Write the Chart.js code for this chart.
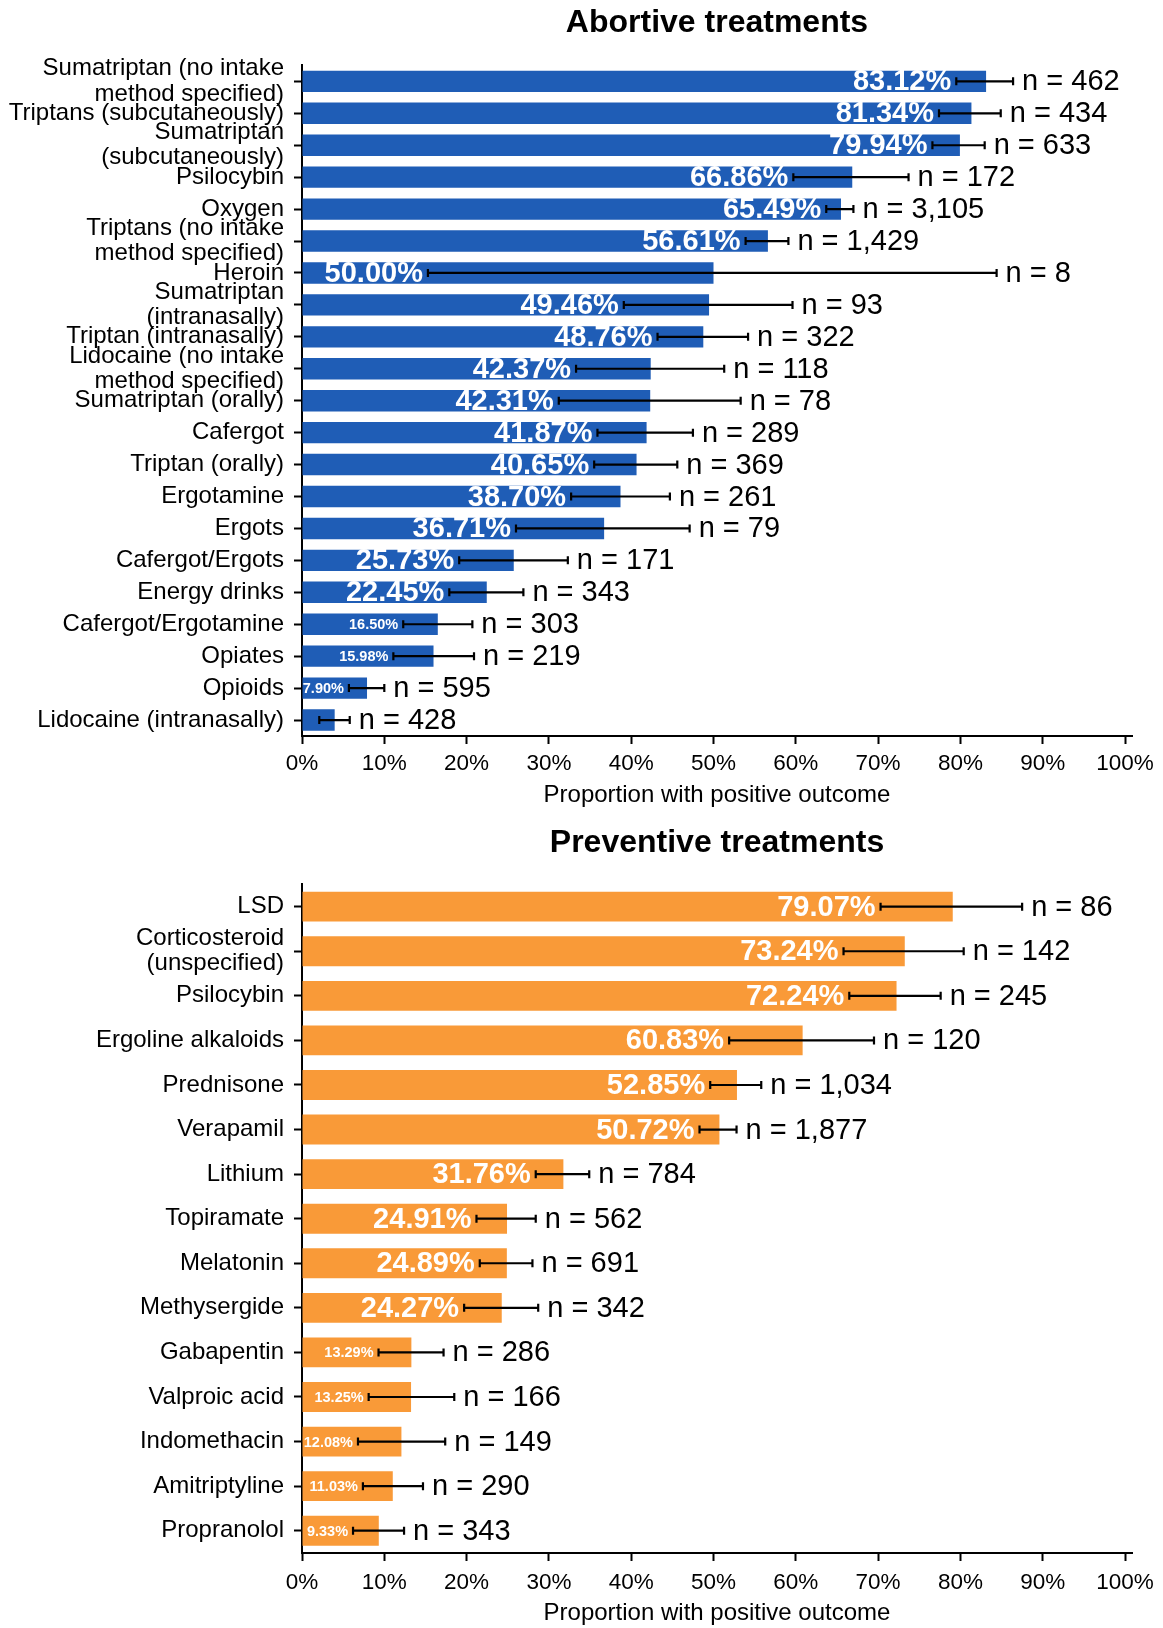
<!doctype html>
<html lang="en">
<head>
  <meta charset="UTF-8" />
  <title>Treatment outcomes</title>
  <script src="https://cdn.jsdelivr.net/npm/chart.js@4.4.4/dist/chart.umd.min.js"></script>
  <style>
    body {
      margin: 0;
      background: #fff;
    }
    canvas {
      display: block;
    }
  </style>
</head>
<body>
  <canvas id="abortiveChart" width="1163" height="815"></canvas>
  <canvas id="preventiveChart" width="1163" height="813"></canvas>

  <script>
    // Abortive treatments: share with positive outcome (%), 95% CI bounds and sample size
    const abortiveLabels = [
      ['Sumatriptan (no intake', 'method specified)'],
      'Triptans (subcutaneously)',
      ['Sumatriptan', '(subcutaneously)'],
      'Psilocybin',
      'Oxygen',
      ['Triptans (no intake', 'method specified)'],
      'Heroin',
      ['Sumatriptan', '(intranasally)'],
      'Triptan (intranasally)',
      ['Lidocaine (no intake', 'method specified)'],
      'Sumatriptan (orally)',
      'Cafergot',
      'Triptan (orally)',
      'Ergotamine',
      'Ergots',
      'Cafergot/Ergots',
      'Energy drinks',
      'Cafergot/Ergotamine',
      'Opiates',
      'Opioids',
      'Lidocaine (intranasally)'
    ];
    const abortiveValues = [83.12, 81.34, 79.94, 66.86, 65.49, 56.61, 50.00, 49.46, 48.76, 42.37, 42.31, 41.87, 40.65, 38.70, 36.71, 25.73, 22.45, 16.50, 15.98, 7.90, 3.97];
    const abortiveLow = [79.5, 77.4, 76.6, 59.7, 63.7, 53.9, 15.3, 39.1, 43.2, 33.3, 31.2, 35.9, 35.5, 32.7, 26.0, 19.1, 17.9, 12.3, 11.1, 5.7, 2.1];
    const abortiveHigh = [86.4, 84.9, 82.95, 73.7, 67.0, 59.1, 84.4, 59.6, 54.2, 51.3, 53.3, 47.5, 45.6, 44.7, 47.1, 32.3, 26.9, 20.7, 20.9, 10.0, 5.8];
    const abortiveN = [462, 434, 633, 172, 3105, 1429, 8, 93, 322, 118, 78, 289, 369, 261, 79, 171, 343, 303, 219, 595, 428];

    // Preventive treatments
    const preventiveLabels = [
      'LSD',
      ['Corticosteroid', '(unspecified)'],
      'Psilocybin',
      'Ergoline alkaloids',
      'Prednisone',
      'Verapamil',
      'Lithium',
      'Topiramate',
      'Melatonin',
      'Methysergide',
      'Gabapentin',
      'Valproic acid',
      'Indomethacin',
      'Amitriptyline',
      'Propranolol'
    ];
    const preventiveValues = [79.07, 73.24, 72.24, 60.83, 52.85, 50.72, 31.76, 24.91, 24.89, 24.27, 13.29, 13.25, 12.08, 11.03, 9.33];
    const preventiveLow = [70.3, 65.8, 66.5, 51.9, 49.6, 48.3, 28.4, 21.2, 21.6, 19.7, 9.3, 8.1, 6.8, 7.4, 6.2];
    const preventiveHigh = [87.5, 80.4, 77.6, 69.5, 55.8, 52.8, 34.9, 28.4, 28.0, 28.7, 17.2, 18.5, 17.4, 14.7, 12.4];
    const preventiveN = [86, 142, 245, 120, 1034, 1877, 784, 562, 691, 342, 286, 166, 149, 290, 343];

    const xTickValues = [0, 10, 20, 30, 40, 50, 60, 70, 80, 90, 100];

    const FONT = '"Liberation Sans", Arial, Helvetica, sans-serif';

    // Error bars, value labels inside the bars and sample sizes to the right
    const annotate = {
      id: 'annotate',
      afterDatasetsDraw(chart, args, opts) {
        const { ctx } = chart;
        const x = chart.scales.x;
        const meta = chart.getDatasetMeta(0);
        ctx.save();
        meta.data.forEach((bar, i) => {
          const y = bar.y;
          const lo = x.getPixelForValue(opts.low[i]);
          const hi = x.getPixelForValue(opts.high[i]);
          const v = opts.values[i];

          if (v >= 5) {
            ctx.fillStyle = '#fff';
            ctx.textAlign = 'right';
            ctx.textBaseline = 'middle';
            ctx.font = v >= 20 ? `bold 29px ${FONT}` : `bold 14.5px ${FONT}`;
            ctx.fillText(v.toFixed(2) + '%', lo - 5, y + 1);
          }

          ctx.strokeStyle = '#000';
          ctx.lineWidth = 2.2;
          ctx.beginPath();
          ctx.moveTo(lo, y);
          ctx.lineTo(hi, y);
          ctx.moveTo(lo, y - 4);
          ctx.lineTo(lo, y + 4);
          ctx.moveTo(hi, y - 4);
          ctx.lineTo(hi, y + 4);
          ctx.stroke();

          ctx.fillStyle = '#000';
          ctx.textAlign = 'left';
          ctx.textBaseline = 'middle';
          ctx.font = `29px ${FONT}`;
          ctx.fillText('n = ' + opts.n[i].toLocaleString('en-US'), hi + 9, y + 1);
        });
        ctx.restore();
      }
    };

    function makeChart(id, cfg) {
      return new Chart(document.getElementById(id), {
        type: 'bar',
        data: {
          labels: cfg.labels,
          datasets: [{
            data: cfg.values,
            backgroundColor: cfg.color,
            barPercentage: 0.67,
            categoryPercentage: 1
          }]
        },
        options: {
          indexAxis: 'y',
          responsive: false,
          animation: false,
          layout: { padding: { left: 0, right: 31, top: 0, bottom: 0 } },
          plugins: {
            legend: { display: false },
            tooltip: { enabled: false },
            title: {
              display: true,
              text: cfg.title,
              fullSize: false,
              color: '#000',
              font: { family: FONT, size: 32, weight: 'bold', lineHeight: 1.2 },
              padding: cfg.titlePadding
            },
            annotate: {
              values: cfg.values,
              low: cfg.low,
              high: cfg.high,
              n: cfg.n
            }
          },
          scales: {
            x: {
              min: 0,
              max: 100.85,
              afterBuildTicks: (scale) => {
                scale.ticks = xTickValues.map((v) => ({ value: v }));
              },
              afterFit: (scale) => {
                scale.height = cfg.xHeight;
              },
              ticks: {
                color: '#000',
                padding: cfg.xTickPadding,
                font: { family: FONT, size: 22.5 },
                callback: (v) => v + '%'
              },
              grid: {
                drawOnChartArea: false,
                tickLength: 8,
                tickWidth: 2,
                tickColor: '#000'
              },
              border: { color: '#000', width: 2 },
              title: {
                display: true,
                text: 'Proportion with positive outcome',
                color: '#000',
                font: { family: FONT, size: 24, lineHeight: 1.2 },
                padding: cfg.xTitlePadding
              }
            },
            y: {
              afterFit: (scale) => {
                scale.width = 302;
              },
              ticks: {
                color: '#000',
                padding: 10,
                autoSkip: false,
                font: { family: FONT, size: 24, lineHeight: 1.05 }
              },
              grid: {
                offset: false,
                drawOnChartArea: false,
                tickLength: 8,
                tickWidth: 2,
                tickColor: '#000'
              },
              border: { color: '#000', width: 2 }
            }
          }
        },
        plugins: [annotate]
      });
    }

    makeChart('abortiveChart', {
      title: 'Abortive treatments',
      labels: abortiveLabels,
      values: abortiveValues,
      low: abortiveLow,
      high: abortiveHigh,
      n: abortiveN,
      color: '#1f5db6',
      titlePadding: { top: 4, bottom: 23 },
      xHeight: 79,
      xTickPadding: 6,
      xTitlePadding: { top: 4, bottom: 5 }
    });

    makeChart('preventiveChart', {
      title: 'Preventive treatments',
      labels: preventiveLabels,
      values: preventiveValues,
      low: preventiveLow,
      high: preventiveHigh,
      n: preventiveN,
      color: '#f99a38',
      titlePadding: { top: 9, bottom: 22 },
      xHeight: 75,
      xTickPadding: 8,
      xTitlePadding: { top: 3, bottom: 0 }
    });
  </script>
</body>
</html>
